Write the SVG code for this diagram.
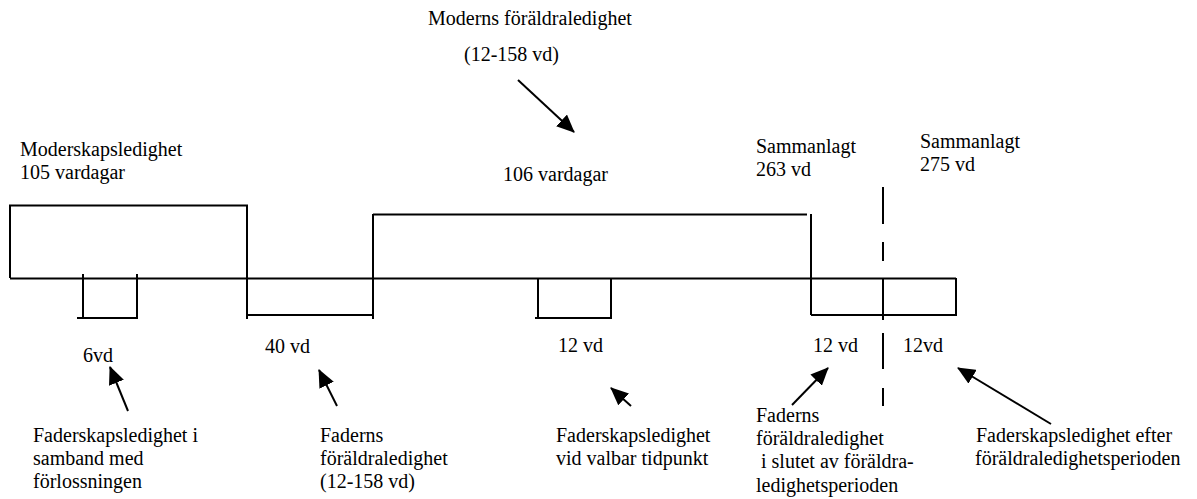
<svg xmlns="http://www.w3.org/2000/svg" width="1197" height="499" viewBox="0 0 1197 499">
<style>
text{font-family:"Liberation Serif","Times New Roman",serif;font-size:20px;fill:#000}
.ln{fill:none;stroke:#000;stroke-width:2;stroke-linecap:butt}
.ar{fill:none;stroke:#000;stroke-width:2}
</style>
<defs>
<marker id="ah" markerUnits="userSpaceOnUse" viewBox="0 -8 18 16" refX="17" refY="0" markerWidth="18" markerHeight="16" orient="auto">
<path d="M0,-8 L18,0 L0,8 z" fill="#000"/>
</marker>
</defs>
<rect width="1197" height="499" fill="#fff"/>
<g id="timeline">
<path class="ln" d="M10,278 L10,205.5 L247,205.5 L247,319"/>
<path class="ln" d="M10,278.5 L956,278.5"/>
<path class="ln" d="M83,274 L83,318 M137,274 L137,318 M77,318 L138,318"/>
<path class="ln" d="M247,315 L373,315 M373,214 L373,319"/>
<path class="ln" d="M373,214.5 L807,214.5 M811,214 L811,315"/>
<path class="ln" d="M538,278 L538,318 M611,278 L611,318 M535,318 L612,318"/>
<path class="ln" d="M811,315 L956,315 L956,278"/>
</g>
<g id="dashed">
<path class="ln" d="M883,187 L883,224 M883,242 L883,261 M883,278 L883,320 M883,333 L883,369 M883,388 L883,406"/>
</g>
<g id="connectors">
<line class="ar" x1="518" y1="80" x2="574" y2="132" marker-end="url(#ah)"/>
<line class="ar" x1="128" y1="411" x2="110" y2="367" marker-end="url(#ah)"/>
<line class="ar" x1="337" y1="406" x2="319" y2="370" marker-end="url(#ah)"/>
<line class="ar" x1="631" y1="406" x2="611" y2="388" marker-end="url(#ah)"/>
<line class="ar" x1="792" y1="405" x2="828" y2="368" marker-end="url(#ah)"/>
<line class="ar" x1="1051" y1="424" x2="958" y2="368" marker-end="url(#ah)"/>
</g>
<g id="top-labels">
<text x="428" y="25">Moderns föräldraledighet</text>
<text x="464" y="61">(12-158 vd)</text>
<text x="503" y="181">106 vardagar</text>
<text x="20" y="156">Moderskapsledighet</text>
<text x="20" y="179">105 vardagar</text>
<text x="756" y="153">Sammanlagt</text>
<text x="756" y="176">263 vd</text>
<text x="920" y="148">Sammanlagt</text>
<text x="920" y="171">275 vd</text>
</g>
<g id="value-labels">
<text x="83" y="362">6vd</text>
<text x="265" y="353">40 vd</text>
<text x="558" y="352">12 vd</text>
<text x="813" y="352">12 vd</text>
<text x="903" y="352">12vd</text>
</g>
<g id="note1">
<text x="33" y="442">Faderskapsledighet i</text>
<text x="33" y="465">samband med</text>
<text x="33" y="488">förlossningen</text>
</g>
<g id="note2">
<text x="320" y="442">Faderns</text>
<text x="320" y="465">föräldraledighet</text>
<text x="320" y="488">(12-158 vd)</text>
</g>
<g id="note3">
<text x="556" y="442">Faderskapsledighet</text>
<text x="556" y="465">vid valbar tidpunkt</text>
</g>
<g id="note4">
<text x="756" y="422">Faderns</text>
<text x="756" y="445">föräldraledighet</text>
<text x="761" y="468">i slutet av föräldra-</text>
<text x="756" y="492">ledighetsperioden</text>
</g>
<g id="note5">
<text x="976" y="442">Faderskapsledighet efter</text>
<text x="975" y="465">föräldraledighetsperioden</text>
</g>
</svg>
